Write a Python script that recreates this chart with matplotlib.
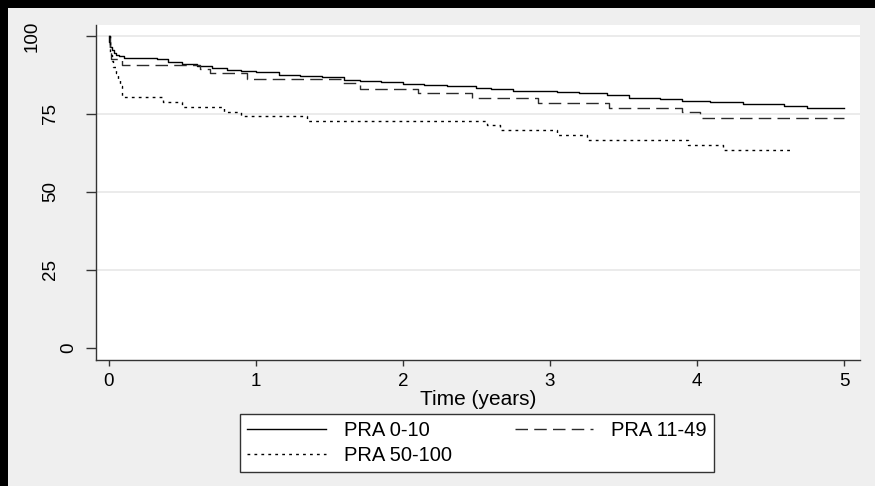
import matplotlib.pyplot as plt
from matplotlib.transforms import blended_transform_factory

# Kaplan-Meier style survival (%)
t_low = [0, 0.003, 0.01, 0.02, 0.035, 0.05, 0.07, 0.1, 0.33, 0.4, 0.5, 0.6, 0.7, 0.8, 0.9,
         1.0, 1.16, 1.3, 1.45, 1.6, 1.71, 1.85, 2.0, 2.14, 2.3, 2.5, 2.6, 2.75, 3.05, 3.2,
         3.39, 3.54, 3.75, 3.9, 4.09, 4.31, 4.59, 4.75, 5.0]
s_low = [100, 98, 96.5, 95.5, 94.5, 94, 93.5, 93, 92.5, 91.8, 91, 90.3, 89.8, 89.2, 88.7,
         88.3, 87.5, 87.2, 86.7, 86.0, 85.6, 85.1, 84.7, 84.3, 83.8, 83.4, 83.0, 82.3, 82.0, 81.6,
         81.1, 80.2, 79.7, 79.2, 78.8, 78.2, 77.7, 77.0, 77.0]

t_mid = [0, 0.005, 0.012, 0.09, 0.62, 0.69, 0.94, 1.59, 1.71, 2.1, 2.47, 2.92, 3.4, 3.9, 4.02, 5.0]
s_mid = [100, 96, 92.5, 90.8, 89.3, 88.0, 86.2, 84.8, 83.0, 81.6, 80.0, 78.4, 76.8, 75.7, 73.8, 73.8]

t_high = [0, 0.005, 0.01, 0.02, 0.03, 0.045, 0.06, 0.075, 0.09, 0.37, 0.5, 0.78, 0.9, 1.35,
          2.57, 2.66, 3.05, 3.25, 3.94, 4.18, 4.65]
s_high = [100, 96, 94, 92, 90, 88, 86, 84, 80.3, 78.8, 77.2, 75.7, 74.2, 72.7,
          71.3, 69.7, 68.1, 66.6, 65.1, 63.5, 63.5]

group_names = ['PRA 0-10', 'PRA 11-49', 'PRA 50-100']
x_ticks = [0, 1, 2, 3, 4, 5]
y_ticks = [0, 25, 50, 75, 100]

plt.rcParams['font.family'] = ['Liberation Sans', 'DejaVu Sans']

W, H = 875, 486
fig = plt.figure(figsize=(8.75, 4.86), dpi=100)
fig.patch.set_facecolor((0.937, 0.937, 0.937, 1.0))
fig.patch.set_alpha(1.0)

# black strips along the top and left edge of the original
strip_top = fig.add_axes([0, 1 - 8 / H, 1, 8 / H])
strip_left = fig.add_axes([0, 0, 8 / W, 1])
for p in (strip_top, strip_left):
    p.set_facecolor('black')
    p.set_xticks([])
    p.set_yticks([])
    for s in p.spines.values():
        s.set_visible(False)

ax = fig.add_axes([95.6 / W, 1 - 360 / H, 764.4 / W, 335 / H])
ax.set_facecolor('white')
ax.set_xlim(-0.091, 5.109)
ax.set_ylim(-3.85, 103.5)

for v in y_ticks[1:]:
    ax.axhline(v, color='#e6e6e6', lw=1.1, zorder=0)

l1, = ax.plot(t_low, s_low, drawstyle='steps-post', color='black', lw=1.0)
l2, = ax.plot(t_mid, s_mid, drawstyle='steps-post', color='#2b2b2b', lw=1.0, dashes=(9, 4.5))
l3, = ax.plot(t_high, s_high, drawstyle='steps-post', color='black', lw=1.0, dashes=(2, 3))

for side in ['top', 'right']:
    ax.spines[side].set_visible(False)
for side in ['left', 'bottom']:
    ax.spines[side].set_color('#333333')
    ax.spines[side].set_linewidth(1.0)

ax.set_xticks(x_ticks)
ax.set_xticklabels([str(x) for x in x_ticks], fontsize=13.5)
ax.tick_params(axis='x', length=4.3, width=1, color='#333333', pad=5)
ax.set_yticks(y_ticks)
ax.set_yticklabels([])
ax.tick_params(axis='y', length=7, width=1, color='#333333')

# y labels rotated, placed like the original (shifted by label length)
tr = blended_transform_factory(fig.transFigure, ax.transData)
for v in y_ticks:
    lab = str(v)
    ax.text((86.5 - 18 * len(lab)) / W, v, lab, transform=tr, rotation=90,
            ha='center', va='center', fontsize=13.5)

ax.set_xlabel('Time (years)', fontsize=15)
ax.xaxis.set_label_coords(0.5, (360 - 390) / 335)

leg = fig.legend([l1, l3, l2], [group_names[0], group_names[2], group_names[1]],
                 ncol=2, loc='upper left', mode='expand',
                 bbox_to_anchor=(240 / W, 1 - 468 / H, 474 / W, 54 / H),
                 fontsize=14.5, handlelength=3.9, handletextpad=0.9,
                 labelspacing=0.3, borderpad=0.35, frameon=True, fancybox=False,
                 borderaxespad=0)
leg.get_frame().set_edgecolor('#333333')
leg.get_frame().set_linewidth(1.0)
leg.get_frame().set_facecolor('white')
leg.get_frame().set_alpha(1)

fig.savefig('out.png', dpi=100, facecolor=(0.937, 0.937, 0.937, 1.0), transparent=False)
